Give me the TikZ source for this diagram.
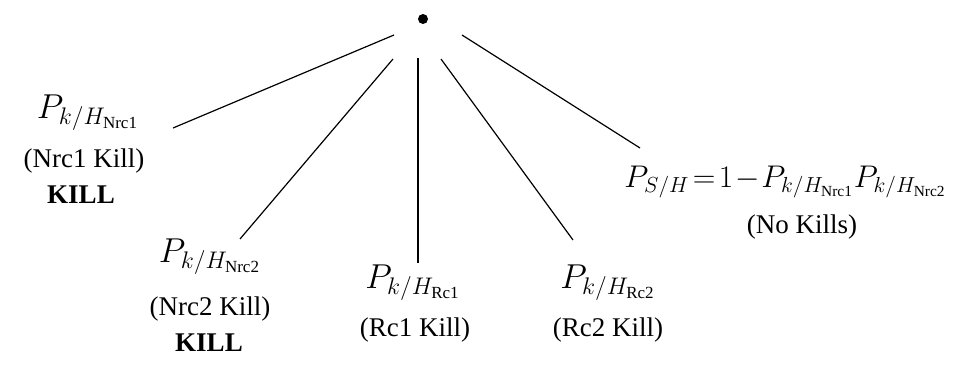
\documentclass[tikz,border=0pt]{standalone}
\usepackage{fontspec}
\setmainfont{Liberation Serif}
\begin{document}
\begin{tikzpicture}[x=0.5pt,y=-0.5pt,
  edge/.style={line width=0.6pt},
  lbl/.style={inner sep=0pt,font=\fontsize{13.5}{16}\selectfont},
  kill/.style={inner sep=0pt,font=\fontsize{13.5}{16}\selectfont\bfseries},
  prob/.style={inner sep=0pt,font=\fontsize{17}{20}\selectfont}]
\useasboundingbox (0,0) rectangle (980,365);
\node[circle,fill=black,minimum size=5pt,inner sep=0pt] (dot) at (423,19) {};
% line ends
\coordinate (s1) at (394,35);  \coordinate (e1) at (173,128);
\coordinate (s2) at (393,59);  \coordinate (e2) at (240,239);
\coordinate (s3) at (418,58);  \coordinate (e3) at (418,263);
\coordinate (s4) at (441,59);  \coordinate (e4) at (573,240);
\coordinate (s5) at (462,35);  \coordinate (e5) at (640,148);
\draw[edge] (s1) -- (e1);
\draw[edge] (s2) -- (e2);
\draw[edge] (s3) -- (e3);
\draw[edge] (s4) -- (e4);
\draw[edge] (s5) -- (e5);
% labels
\node[prob] (p1) at (88,113) {$P_{k/H_{\mathrm{Nrc1}}}$};
\node[lbl] (t1) at (84,161) {(Nrc1 Kill)};
\node[kill] (k1) at (81,195) {KILL};
\node[prob] (p2) at (210,257) {$P_{k/H_{\mathrm{Nrc2}}}$};
\node[lbl] (t2) at (210,309) {(Nrc2 Kill)};
\node[kill] (k2) at (209,343) {KILL};
\node[prob] (p3) at (413,283) {$P_{k/H_{\mathrm{Rc1}}}$};
\node[lbl] (t3) at (415,330) {(Rc1 Kill)};
\node[prob] (p4) at (608,283) {$P_{k/H_{\mathrm{Rc2}}}$};
\node[lbl] (t4) at (608,330) {(Rc2 Kill)};
\node[prob,anchor=west] (p5) at (624,182) {\resizebox{161pt}{!}{$P_{S/H}\!=\!1\!-\!P_{k/H_{\mathrm{Nrc1}}}P_{k/H_{\mathrm{Nrc2}}}$}};
\node[lbl] (t5) at (802,227) {(No Kills)};
\end{tikzpicture}
\end{document}
